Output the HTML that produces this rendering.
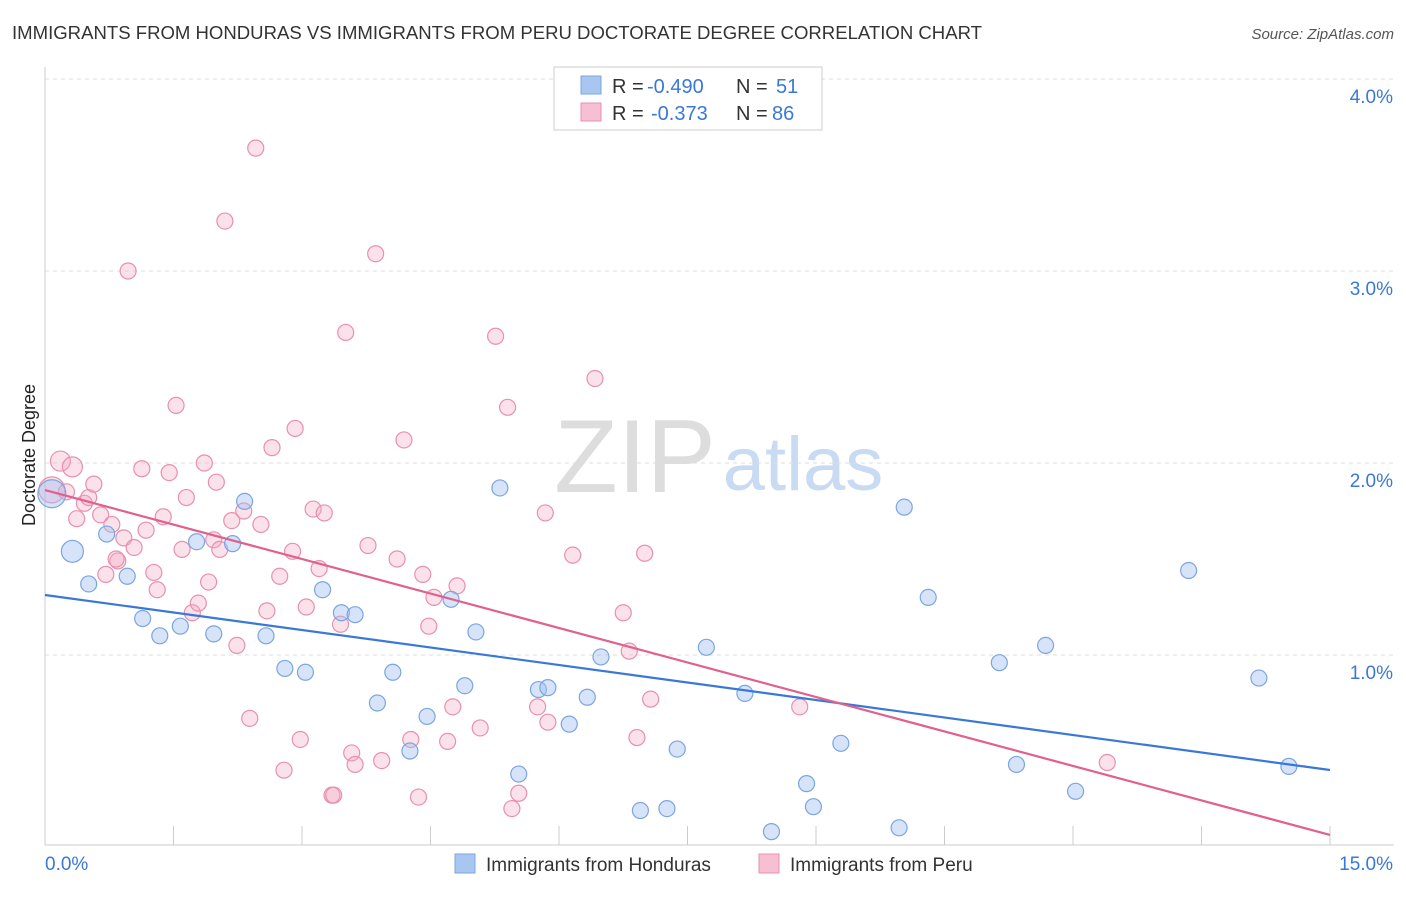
<!DOCTYPE html>
<html><head><meta charset="utf-8"><style>
body{margin:0;background:#fff;font-family:"Liberation Sans",sans-serif;}
svg text{font-family:"Liberation Sans",sans-serif;}
</style></head><body>
<svg id="chart" width="1406" height="892" xmlns="http://www.w3.org/2000/svg">
<text x="12" y="39" font-size="18" fill="#333" textLength="970" lengthAdjust="spacingAndGlyphs">IMMIGRANTS FROM HONDURAS VS IMMIGRANTS FROM PERU DOCTORATE DEGREE CORRELATION CHART</text>
<text x="1394" y="39" font-size="15" fill="#555" font-style="italic" text-anchor="end">Source: ZipAtlas.com</text>
<text x="35" y="455" font-size="18" fill="#222" text-anchor="middle" transform="rotate(-90 35 455)">Doctorate Degree</text>
<g><text x="635" y="492" font-size="104" fill="#ddd" font-family="Liberation Serif" text-anchor="middle">ZIP</text><text x="803" y="490" font-size="76" fill="#c9dbf2" text-anchor="middle">atlas</text></g>
<g id="grid"></g><g id="axes"></g><g id="pts"></g><g id="lines"></g>
<g>
<rect x="554" y="67" width="268" height="63" fill="#fff" stroke="#ccc"/>
<rect x="581" y="76" width="20" height="18" fill="#a9c6f0" stroke="#7aa6e0"/>
<rect x="581" y="103" width="20" height="18" fill="#f7c0d2" stroke="#e890ae"/>
<text x="612" y="93" font-size="20" fill="#333">R =</text><text x="647" y="93" font-size="20" fill="#3a78d8">-0.490</text>
<text x="736" y="93" font-size="20" fill="#333">N =</text><text x="776" y="93" font-size="20" fill="#3a78d8">51</text>
<text x="612" y="120" font-size="20" fill="#333">R =</text><text x="651" y="120" font-size="20" fill="#3a78d8">-0.373</text>
<text x="736" y="120" font-size="20" fill="#333">N =</text><text x="772" y="120" font-size="20" fill="#3a78d8">86</text>
</g>
<g>
<rect x="455" y="854" width="20" height="19" fill="#a9c6f0" stroke="#7aa6e0"/>
<text x="486" y="871" font-size="19" fill="#333">Immigrants from Honduras</text>
<rect x="759" y="854" width="20" height="19" fill="#f7c0d2" stroke="#e890ae"/>
<text x="790" y="871" font-size="19" fill="#333">Immigrants from Peru</text>
</g>
</svg>
<script>
const xTicks=[0,1.5,3,4.5,6,7.5,9,10.5,12,13.5,15];
const yTicks=[1,2,3,4];
const yTickLabels=["1.0%","2.0%","3.0%","4.0%"];
const hondurasX=[0.08,0.32,0.51,0.72,0.96,1.14,1.34,1.58,1.77,1.97,2.19,2.33,2.58,2.80,3.04,3.24,3.46,3.62,3.88,4.06,4.26,4.46,4.74,4.90,5.03,5.31,5.53,5.76,5.87,6.12,6.33,6.49,6.95,7.26,7.38,7.72,8.17,8.48,8.89,8.97,9.29,9.97,10.03,10.31,11.14,11.34,11.68,12.03,13.35,14.17,14.52];
const hondurasY=[1.84,1.54,1.37,1.63,1.41,1.19,1.10,1.15,1.59,1.11,1.58,1.80,1.10,0.93,0.91,1.34,1.22,1.21,0.75,0.91,0.50,0.68,1.29,0.84,1.12,1.87,0.38,0.82,0.83,0.64,0.78,0.99,0.19,0.20,0.51,1.04,0.80,0.08,0.33,0.21,0.54,0.10,1.77,1.30,0.96,0.43,1.05,0.29,1.44,0.88,0.42];
const peruX=[0.08,0.18,0.32,0.46,0.51,0.57,0.37,0.65,0.78,0.71,0.85,0.92,1.04,0.97,1.18,1.13,1.27,1.31,1.38,1.45,1.53,1.60,1.65,1.72,1.79,1.86,1.91,1.97,2.04,2.10,2.18,2.24,2.32,2.39,2.46,2.52,2.59,2.65,2.74,2.79,2.89,2.92,2.98,3.05,3.13,3.26,3.35,3.37,3.45,3.51,3.58,3.62,3.77,3.86,3.93,4.11,4.19,4.27,4.36,4.41,4.48,4.54,4.70,4.76,4.81,5.08,5.26,5.40,5.45,5.53,5.75,5.84,5.87,6.16,6.42,6.75,6.82,6.91,7.00,7.07,8.81,12.40,0.25,0.83,2.00,3.20];
const peruY=[1.86,2.01,1.98,1.79,1.82,1.89,1.71,1.73,1.68,1.42,1.49,1.61,1.56,3.00,1.65,1.97,1.43,1.34,1.72,1.95,2.30,1.55,1.82,1.22,1.27,2.00,1.38,1.60,1.55,3.26,1.70,1.05,1.75,0.67,3.64,1.68,1.23,2.08,1.41,0.40,1.54,2.18,0.56,1.25,1.76,1.74,0.27,0.27,1.16,2.68,0.49,0.43,1.57,3.09,0.45,1.50,2.12,0.56,0.26,1.42,1.15,1.30,0.55,0.73,1.36,0.62,2.66,2.29,0.20,0.28,0.73,1.74,0.65,1.52,2.44,1.22,1.02,0.57,1.53,0.77,0.73,0.44,1.85,1.50,1.90,1.45];
const blueTrend=[1.3125,0.401];
const pinkTrend=[1.859,0.063];
const sx=v=>45+v/15*1285, sy=v=>847-v*192;
const NS="http://www.w3.org/2000/svg";
function mk(tag,attrs,parent){const e=document.createElementNS(NS,tag);for(const k in attrs)e.setAttribute(k,attrs[k]);document.getElementById(parent).appendChild(e);return e;}
yTicks.forEach((v,i)=>{
 const l=mk('line',{x1:45,x2:1394,y1:sy(v),y2:sy(v),stroke:'#ddd','stroke-dasharray':'4,4'},'grid');
 
 
 const t=mk('text',{x:1393,y:sy(v)+24,'font-size':19,fill:'#3a78d8','text-anchor':'end'},'axes');t.textContent=yTickLabels[i];
 
 
});
const ax=mk('line',{x1:45,x2:1394,y1:845,y2:845,stroke:'#ccc'},'axes');


const ay=mk('line',{x1:45,x2:45,y1:67,y2:845,stroke:'#ccc'},'axes');


xTicks.forEach(v=>{const t=mk('line',{x1:sx(v),x2:sx(v),y1:826,y2:845,stroke:'#ccc'},'axes');
 
 });
const x0=mk('text',{x:45,y:870,'font-size':19,fill:'#3a78d8'},'axes');x0.textContent='0.0%';


const x1=mk('text',{x:1393,y:870,'font-size':19,fill:'#3a78d8','text-anchor':'end'},'axes');x1.textContent='15.0%';


peruX.forEach((x,i)=>{const r=i===0?13:(i<3?10:8);const c=mk('circle',{cx:sx(x),cy:sy(peruY[i]),r:r,fill:'rgba(244,170,195,0.35)',stroke:'#e890ae','stroke-width':1.2},'pts');
 
 });
hondurasX.forEach((x,i)=>{const r=i===0?14:(i===1?11:8);const c=mk('circle',{cx:sx(x),cy:sy(hondurasY[i]),r:r,fill:'rgba(164,194,240,0.45)',stroke:'#7aa6e0','stroke-width':1.2},'pts');
 
 });
const bl=mk('line',{x1:sx(0),y1:sy(blueTrend[0]),x2:sx(15),y2:sy(blueTrend[1]),stroke:'#3a78d8','stroke-width':2.2},'lines');


const pl=mk('line',{x1:sx(0),y1:sy(pinkTrend[0]),x2:sx(15),y2:sy(pinkTrend[1]),stroke:'#e0608e','stroke-width':2.2},'lines');


</script>
</body></html>
